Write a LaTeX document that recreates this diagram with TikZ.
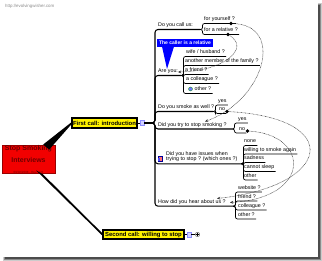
\documentclass[tikz,border=0pt]{standalone}
\usepackage{fontspec}
\setmainfont{Liberation Sans}
\usetikzlibrary{arrows.meta,calc}
\definecolor{mmred}{HTML}{F20000}
\definecolor{mmdark}{HTML}{6E0000}
\begin{document}
\begin{tikzpicture}[x=1pt,y=-1pt,
  leaf/.style={font=\fontsize{5.3}{6}\selectfont, anchor=base west, inner sep=0pt},
  ln/.style={line width=0.7pt, rounded corners=2pt},
  spine/.style={line width=1.05pt, rounded corners=3pt},
  rel/.style={draw=black!80, line width=0.55pt, dash pattern=on 0.6pt off 0.75pt, -{Stealth[length=3.2pt,width=2.8pt]}},
  reldot/.style={circle, fill=black, inner sep=0pt, minimum size=3.8pt},
  topic/.style={draw=black, line width=1.1pt, fill=yellow, inner sep=0pt, font=\fontsize{5.9}{6}\selectfont\bfseries},
  iconbox/.style={draw=blue!45, fill=blue!18, inner sep=0pt, minimum width=4pt, minimum height=5pt}]
\useasboundingbox (0,0) rectangle (322,261);
% page with shadow
\fill[black!20] (3,3) rectangle (322,261);
\fill[black!45] (4,4) rectangle (321,260);
\fill[black!70] (5,5) rectangle (320,259);
\fill[white] (0,0) rectangle (318,257);
\node[anchor=base west, inner sep=0pt, text=black!45, font=\fontsize{4.4}{5}\selectfont] (url) at (5,8) {http://evolvingwisher.com};

% central topic
\node[draw=red!60!black, line width=0.4pt, fill=mmred, minimum width=53pt, minimum height=27pt, inner sep=0pt, align=center, text=mmdark] (root) at (28.5,159.5)
  {{\fontsize{7}{7.6}\selectfont\bfseries Stop Smoking}\\{\fontsize{7}{7.6}\selectfont\bfseries Interviews}\\[-1.5pt]{\fontsize{3}{3.4}\selectfont 09/02/2008 - Rev. 222}};

% main topics
\node[topic, minimum width=65pt, minimum height=10pt] (first) at (104.5,123) {First call: introduction};
\node[topic, minimum width=81pt, minimum height=9pt] (second) at (143.5,234.5) {Second call: willing to stop};

% tapered main branches (root to topics)
\begin{scope}[on background layer/.try]
\end{scope}
\path[fill=black] ($(root.north east)+(-12,-1)$) -- ($(root.north east)+(-6,4)$) -- ($(first.west)+(0.6,0.6)$) -- ($(first.west)+(-0.2,-0.6)$) -- cycle;
\path[fill=black] ($(root.south east)+(-12,1)$) -- ($(root.south east)+(-19,-3)$) -- ($(second.west)+(-0.5,0.7)$) -- ($(second.west)+(0.5,-0.6)$) -- cycle;

\node[iconbox] (ic1) at (142,123) {};
\node[iconbox] (ic2) at (189,234.5) {};
\node[circle, draw=black!70, line width=0.4pt, inner sep=0pt, minimum size=4.4pt] (plus) at (197.5,234.5) {};
\draw[line width=0.35pt] ($(plus.center)+(-1.2,0)$) -- ($(plus.center)+(1.2,0)$) ($(plus.center)+(0,-1.2)$) -- ($(plus.center)+(0,1.2)$);
\draw[line width=0.9pt] (first.east) -- (ic1.west);
\draw[line width=0.8pt] (second.east) -- (ic2.west);
\draw[line width=0.6pt] (ic2.east) -- (plus.west);

% level 1 texts
\node[leaf] (A) at (158,27) {Do you call us:};
\node[leaf] (B) at (158,73) {Are you:};
\node[leaf] (C) at (158,109) {Do you smoke as well ?};
\node[leaf] (D) at (158,126.5) {Did you try to stop smoking ?};
\node[leaf] (E) at (166,155.2) {Did you have issues when};
\node[leaf] (E2) at (166,161) {trying to stop ? (which ones ?)};
\node[leaf] (F) at (158,204) {How did you hear about us ?};
\node[draw=blue!60!black, line width=0.3pt, fill=red!55, inner sep=0pt, minimum width=4pt, minimum height=5pt] (icE) at (160,158.5) {};
\fill[blue!70] (158,158.5) rectangle (160,161);

% fork points
\coordinate (fkA) at (200,29.5);
\coordinate (fkB) at (181,75.5);
\coordinate (fkC) at (213,111.5);
\coordinate (fkD) at (232,129);
\coordinate (fkE) at (241,163.8);
\coordinate (fkF) at (233,206.2);
\coordinate (hub) at (ic1.east);

% spine and level-1 underlines
\draw[spine] (hub) -- (155,123) |- (fkA);
\draw[spine] (hub) -- (155,123) |- (fkB);
\draw[spine] (hub) -- (155,123) |- (fkC);
\draw[spine] (hub) -- (155,123) |- (fkD);
\draw[spine] (hub) -- (155,123) |- (fkE);
\draw[spine] (hub) -- (155,123) |- (fkF);

% callout
\fill[blue] (162,46.5) -- (174,46.5) -- (167,69) -- cycle;
\node[fill=blue, inner sep=0pt, minimum width=56pt, minimum height=8pt, text=white, font=\fontsize{5}{6}\selectfont\bfseries] (callout) at (185,43) {The caller is a relative};

% level 2 texts
\node[leaf] (a1) at (204,21) {for yourself ?};
\node[leaf] (a2) at (204,32) {for a relative ?};
\node[leaf] (b1) at (186,54) {wife / husband ?};
\node[leaf] (b2) at (185,63) {another member of the family ?};
\node[leaf] (b3) at (185,72) {a friend ?};
\node[leaf] (b4) at (186,81) {a colleague ?};
\node[leaf] (b5) at (194.5,91) {other ?};
\node[circle, fill=blue!55, draw=green!60!black, line width=0.3pt, inner sep=0pt, minimum size=4pt] (icb5) at (190.5,89) {};
\node[leaf] (c1) at (218,102.5) {yes};
\node[leaf] (c2) at (219,111) {no};
\node[leaf] (d1) at (238,120.5) {yes};
\node[leaf] (d2) at (239,130.5) {no};
\node[leaf] (e1) at (244,143) {none};
\node[leaf] (e2) at (244,151.5) {willing to smoke again};
\node[leaf] (e3) at (244,160) {sadness};
\node[leaf] (e4) at (244,169) {cannot sleep};
\node[leaf] (e5) at (244,177.5) {other};
\node[leaf] (f1) at (238,189.5) {website ?};
\node[leaf] (f2) at (238,198.5) {friend ?};
\node[leaf] (f3) at (238,207.5) {colleague ?};
\node[leaf] (f4) at (238,216.5) {other ?};

\newcommand{\mmbranch}[2]{\draw[ln] (#1) -- ++(2.5,0) |- ($(#2.base east)+(1.2,2.5)$);}
\mmbranch{fkA}{a1}\mmbranch{fkA}{a2}
\mmbranch{fkB}{b1}\mmbranch{fkB}{b2}\mmbranch{fkB}{b3}\mmbranch{fkB}{b4}\mmbranch{fkB}{b5}
\mmbranch{fkC}{c1}\mmbranch{fkC}{c2}
\mmbranch{fkD}{d1}\mmbranch{fkD}{d2}
\mmbranch{fkE}{e1}\mmbranch{fkE}{e2}\mmbranch{fkE}{e3}\mmbranch{fkE}{e4}\mmbranch{fkE}{e5}
\mmbranch{fkF}{f1}\mmbranch{fkF}{f2}\mmbranch{fkF}{f3}\mmbranch{fkF}{f4}

% relationships
\node[reldot] (r1s) at (228,34.5) {};
\node[reldot] (r2s) at (231,23.5) {};
\node[reldot] (r3s) at (227,111.5) {};
\node[reldot] (r4s) at (247.5,131) {};
\coordinate (r1e) at (178,72);
\coordinate (r2e) at (205,121.5);
\coordinate (r3e) at (217,198.5);
\coordinate (r4e) at (230,202.5);
\draw[rel] (r1s) .. controls (250,48) and (225,71) .. (r1e);
\draw[rel] (r2s) .. controls (285,25) and (265,100) .. (r2e);
\draw[rel] (r3s) .. controls (345,118) and (332,186) .. (r3e);
\draw[rel] (r4s) .. controls (310,135) and (312,198) .. (r4e);
\end{tikzpicture}
\end{document}
